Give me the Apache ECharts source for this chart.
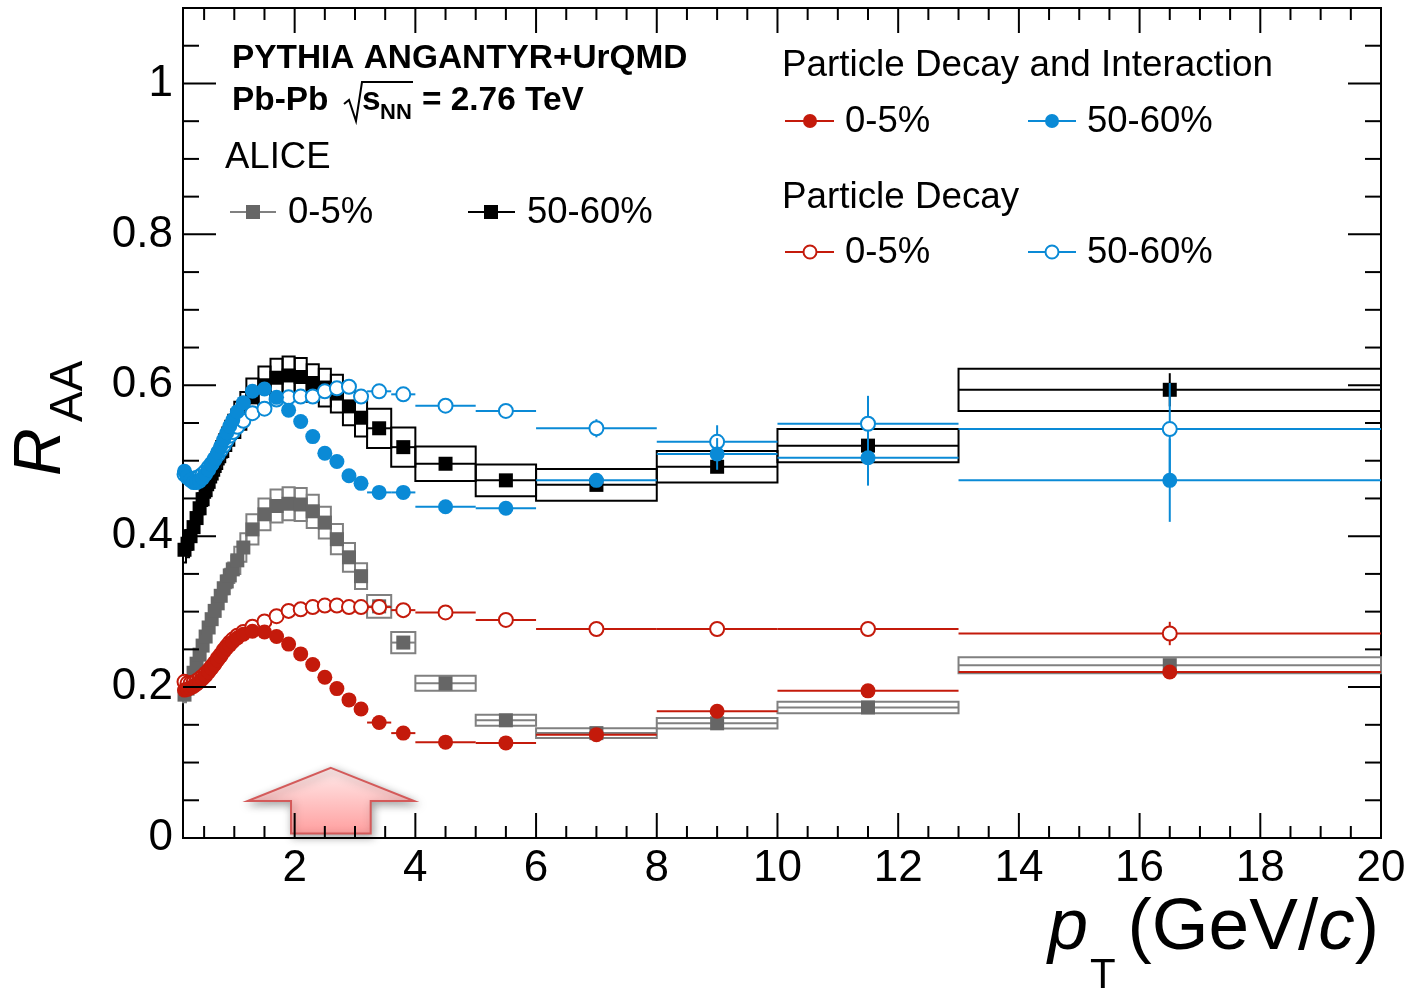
<!DOCTYPE html>
<html><head><meta charset="utf-8">
<script src="https://cdn.jsdelivr.net/npm/echarts@6/dist/echarts.min.js"></script>
<style>html,body{margin:0;padding:0;background:#fff;}#c{width:1410px;height:993px;}</style>
</head><body><div id="c"></div>
<script>
// ---------------- data ----------------
const ptCenters = [0.175,0.225,0.275,0.325,0.375,0.425,0.475,0.525,0.575,0.625,0.675,0.725,0.775,0.825,0.875,0.925,0.975,
  1.05,1.15,1.3,1.5,1.7,1.9,2.1,2.3,2.5,2.7,2.9,3.1,3.4,3.8,4.5,5.5,7,9,11.5,16.5];
const ptHalfWidths = [0.025,0.025,0.025,0.025,0.025,0.025,0.025,0.025,0.025,0.025,0.025,0.025,0.025,0.025,0.025,0.025,0.025,
  0.05,0.05,0.1,0.1,0.1,0.1,0.1,0.1,0.1,0.1,0.1,0.1,0.2,0.2,0.5,0.5,1,1,1.5,3.5];

// ALICE 0-5%
const aliceCentral = [0.190,0.198,0.208,0.219,0.231,0.243,0.255,0.267,0.279,0.290,0.301,0.311,0.321,0.331,0.340,0.348,0.356,
  0.368,0.385,0.409,0.429,0.440,0.443,0.442,0.433,0.418,0.396,0.372,0.347,0.307,0.259,0.205,0.156,0.139,0.152,0.173,0.229];
const aliceCentralSys = [0.010,0.010,0.010,0.011,0.012,0.012,0.013,0.013,0.014,0.015,0.015,0.016,0.016,0.017,0.017,0.017,0.018,
  0.018,0.019,0.020,0.021,0.022,0.022,0.022,0.022,0.021,0.020,0.019,0.017,0.015,0.014,0.010,0.0073,0.0066,0.007,0.0077,0.0106];
const aliceCentralStat = [0,0,0,0,0,0,0,0,0,0,0,0,0,0,0,0,0,0,0,0,0,0,0,0,0,0,0,0,0,0,0,
  0.002,0.002,0.002,0.003,0.004,0.008];
// ALICE 50-60%
const alicePeripheral = [0.382,0.390,0.400,0.412,0.424,0.437,0.449,0.461,0.472,0.483,0.493,0.503,0.512,0.521,0.529,0.537,0.544,
  0.554,0.566,0.584,0.600,0.610,0.613,0.611,0.603,0.597,0.589,0.572,0.557,0.543,0.518,0.496,0.474,0.468,0.492,0.520,0.594];
const alicePeripheralSys = [0.017,0.018,0.018,0.019,0.019,0.020,0.020,0.021,0.021,0.022,0.022,0.023,0.023,0.023,0.024,0.024,0.024,
  0.024,0.025,0.025,0.025,0.025,0.025,0.025,0.025,0.025,0.025,0.025,0.025,0.026,0.026,0.023,0.021,0.021,0.021,0.022,0.028];
const alicePeripheralStat = [0,0,0,0,0,0,0,0,0,0,0,0,0,0,0,0,0,0,0,0,0,0,0,0,0,0,0,0,0,0,0,
  0.003,0.004,0.005,0.007,0.010,0.022];

// Particle Decay and Interaction
const decayIntCentral = [0.196,0.197,0.199,0.201,0.204,0.207,0.211,0.215,0.220,0.225,0.230,0.236,0.241,0.247,0.252,0.256,0.260,
  0.265,0.270,0.274,0.273,0.267,0.257,0.244,0.230,0.213,0.198,0.183,0.171,0.153,0.139,0.127,0.126,0.137,0.168,0.195,0.220];
const decayIntCentralErr = [0,0,0,0,0,0,0,0,0,0,0,0,0,0,0,0,0,0,0,0,0,0,0,0,0,0,0,0,0,0,0,
  0.002,0.002,0.003,0.004,0.006,0.004];
const decayIntPeripheral = [0.486,0.479,0.474,0.471,0.471,0.473,0.477,0.482,0.488,0.495,0.503,0.511,0.519,0.528,0.537,0.546,0.554,
  0.565,0.577,0.592,0.595,0.584,0.567,0.552,0.532,0.510,0.499,0.480,0.470,0.458,0.458,0.439,0.437,0.474,0.509,0.504,0.474];
const decayIntPeripheralErr = [0,0,0,0,0,0,0,0,0,0,0,0,0,0,0,0,0,0,0,0,0,0,0,0,0,0,0,0,0,0,0,
  0.004,0.005,0.009,0.021,0.037,0.055];

// Particle Decay
const decayCentral = [0.207,0.205,0.205,0.206,0.208,0.211,0.214,0.218,0.222,0.227,0.232,0.238,0.243,0.249,0.254,0.259,0.263,
  0.268,0.273,0.280,0.287,0.294,0.301,0.303,0.306,0.308,0.308,0.306,0.306,0.306,0.302,0.299,0.289,0.277,0.277,0.277,0.271];
const decayCentralErr = [0,0,0,0,0,0,0,0,0,0,0,0,0,0,0,0,0,0,0,0,0,0,0,0,0,0,0,0,0,0,0,
  0.003,0.003,0.004,0.005,0.007,0.0155];
const decayPeripheral = [0.482,0.478,0.476,0.476,0.477,0.479,0.482,0.486,0.491,0.496,0.502,0.508,0.514,0.520,0.527,0.533,0.538,
  0.545,0.553,0.563,0.569,0.581,0.584,0.585,0.585,0.592,0.596,0.598,0.585,0.592,0.588,0.573,0.566,0.543,0.525,0.549,0.542];
const decayPeripheralErr = [0,0,0,0,0,0,0,0,0,0,0,0,0,0,0,0,0,0,0,0,0,0,0,0,0,0,0,0,0,0,0,
  0.005,0.006,0.012,0.022,0.037,0.061];

// axis ticks
const xMajorTicks = [2,4,6,8,10,12,14,16,18,20];
const xMinorTicks = [0.5,1,1.5,2.5,3,3.5,4.5,5,5.5,6.5,7,7.5,8.5,9,9.5,10.5,11,11.5,12.5,13,13.5,14.5,15,15.5,16.5,17,17.5,18.5,19,19.5];
const yMajorTicks = [0,0.2,0.4,0.6,0.8,1.0];
const yMinorTicks = [0.05,0.1,0.15,0.25,0.3,0.35,0.45,0.5,0.55,0.65,0.7,0.75,0.85,0.9,0.95,1.05];

// annotation arrow (data units)
const ARROW = {tipX:2.6, tipY:0.093, wingY:0.049, wingL:1.22, wingR:3.98, shaftL:1.94, shaftR:3.26, baseY:0.006};

// ---------------- style ----------------
const FONT = "'Liberation Sans', Arial, Helvetica, sans-serif";
const RED = '#c41a0b', BLUE = '#0a8ad6', GRAY = '#666666', GRAYBOX = '#808080', BLACK = '#000000';
const X_MIN = 0.15, X_MAX = 20, Y_MIN = 0, Y_MAX = 1.1;

function rows(vals, a, b) { return ptCenters.map((x, i) => [x, vals[i], ptHalfWidths[i], a ? a[i] : 0, b ? b[i] : 0]); }

function boxSeries(vals, sys, stat, color, z) {
  return {type:'custom', coordinateSystem:'cartesian2d', silent:true, z:z, animation:false,
    encode:{x:0, y:1}, data: rows(vals, sys, stat),
    renderItem(params, api) {
      const x = api.value(0), y = api.value(1), hw = api.value(2), s = api.value(3), st = api.value(4);
      const tl = api.coord([x - hw, y + s]), br = api.coord([x + hw, y - s]);
      const l = api.coord([x - hw, y]), r = api.coord([x + hw, y]);
      const ch = [
        {type:'rect', shape:{x:tl[0], y:tl[1], width:br[0]-tl[0], height:br[1]-tl[1]}, style:{fill:'none', stroke:color, lineWidth:2}},
        {type:'line', shape:{x1:l[0], y1:l[1], x2:r[0], y2:r[1]}, style:{stroke:color, lineWidth:2}}
      ];
      if (st > 0) {
        const t = api.coord([x, y + st]), b = api.coord([x, y - st]);
        ch.push({type:'line', shape:{x1:t[0], y1:t[1], x2:b[0], y2:b[1]}, style:{stroke:color, lineWidth:2}});
      }
      return {type:'group', children:ch};
    }};
}
function errSeries(vals, err, color, z) {
  return {type:'custom', coordinateSystem:'cartesian2d', silent:true, z:z, animation:false,
    encode:{x:0, y:1}, data: rows(vals, err),
    renderItem(params, api) {
      const x = api.value(0), y = api.value(1), hw = api.value(2), e = api.value(3);
      const l = api.coord([x - hw, y]), r = api.coord([x + hw, y]);
      const ch = [{type:'line', shape:{x1:l[0], y1:l[1], x2:r[0], y2:r[1]}, style:{stroke:color, lineWidth:2}}];
      if (e > 0) {
        const t = api.coord([x, y + e]), b = api.coord([x, y - e]);
        ch.push({type:'line', shape:{x1:t[0], y1:t[1], x2:b[0], y2:b[1]}, style:{stroke:color, lineWidth:2}});
      }
      return {type:'group', children:ch};
    }};
}
function markerSeries(vals, symbol, size, fill, border, z) {
  return {type:'scatter', silent:true, z:z, animation:false, symbol:symbol, symbolSize:size,
    itemStyle:{color:fill, borderColor:border, borderWidth: border ? 2 : 0, opacity:1},
    emphasis:{disabled:true},
    data: ptCenters.map((x, i) => [x, vals[i]])};
}
function tickSeries(values, axis, len) {
  return {type:'custom', coordinateSystem:'cartesian2d', silent:true, z:20, animation:false, clip:false,
    encode:{x:0, y:1},
    data: values.map(v => axis === 'x' ? [v, Y_MIN] : [X_MIN, v]),
    renderItem(params, api) {
      const cs = params.coordSys;
      const p = api.coord([api.value(0), api.value(1)]);
      const st = {stroke:'#000', lineWidth:2};
      if (axis === 'x') {
        return {type:'group', children:[
          {type:'line', shape:{x1:p[0], y1:cs.y + cs.height, x2:p[0], y2:cs.y + cs.height - len}, style:st},
          {type:'line', shape:{x1:p[0], y1:cs.y, x2:p[0], y2:cs.y + len}, style:st}]};
      }
      return {type:'group', children:[
        {type:'line', shape:{x1:cs.x, y1:p[1], x2:cs.x + len, y2:p[1]}, style:st},
        {type:'line', shape:{x1:cs.x + cs.width, y1:p[1], x2:cs.x + cs.width - len, y2:p[1]}, style:st}]};
    }};
}
const arrowSeries = {type:'custom', coordinateSystem:'cartesian2d', silent:true, z:1, animation:false, clip:false,
  encode:{x:0, y:1}, data:[[ARROW.tipX, ARROW.tipY]],
  renderItem(params, api) {
    const A = ARROW;
    const pts = [[A.tipX, A.tipY],[A.wingR, A.wingY],[A.shaftR, A.wingY],[A.shaftR, A.baseY],
                 [A.shaftL, A.baseY],[A.shaftL, A.wingY],[A.wingL, A.wingY]].map(p => api.coord(p));
    return {type:'polygon', shape:{points:pts}, style:{
      fill: new echarts.graphic.LinearGradient(0, 0, 0, 1, [{offset:0, color:'#ffecec'}, {offset:1, color:'#ff9e9e'}]),
      stroke:'#d45a5a', lineWidth:2, shadowBlur:8, shadowColor:'rgba(0,0,0,0.35)', shadowOffsetX:2, shadowOffsetY:3}};
  }};

// ---------------- graphic texts / legend ----------------
function txt(text, x, y, size, opts) {
  return Object.assign({type:'text', x:x, y:y, silent:true, z:50, style:Object.assign({
    text:text, fill:'#000', fontSize:size, fontFamily:FONT, align:'left', verticalAlign:'middle'}, (opts && opts.style) || {})},
    opts && opts.el ? opts.el : {});
}
function hline(x1, x2, y, color) {
  return {type:'line', silent:true, z:50, shape:{x1:x1, y1:y, x2:x2, y2:y}, style:{stroke:color, lineWidth:2}};
}
function sq(cx, cy, s, color) {
  return {type:'rect', silent:true, z:51, shape:{x:cx - s/2, y:cy - s/2, width:s, height:s}, style:{fill:color}};
}
function circ(cx, cy, r, fill, stroke) {
  return {type:'circle', silent:true, z:51, shape:{cx:cx, cy:cy, r:r}, style:{fill:fill, stroke:stroke || null, lineWidth: stroke ? 2 : 0}};
}
const graphics = [
  txt('PYTHIA ANGANTYR+UrQMD', 232, 59, 33.4, {style:{fontWeight:'bold'}}),
  txt('Pb-Pb', 232, 101, 33.4, {style:{fontWeight:'bold'}}),
  {type:'polyline', silent:true, z:50, shape:{points:[[344,104],[349,100],[356,121],[362,82],[413,82]]}, style:{stroke:'#000', lineWidth:2, fill:'none'}},
  txt('s', 362, 101, 33.4, {style:{fontWeight:'bold'}}),
  txt('NN', 380, 113, 22, {style:{fontWeight:'bold'}}),
  txt('= 2.76 TeV', 422, 101, 33.4, {style:{fontWeight:'bold'}}),
  txt('ALICE', 225, 158, 36.5),
  hline(230, 276, 212, GRAYBOX), sq(253, 212, 14, GRAY), txt('0-5%', 288, 213, 36.5),
  hline(468, 515, 212, BLACK), sq(491, 212, 14, BLACK), txt('50-60%', 527, 213, 36.5),
  txt('Particle Decay and Interaction', 782, 66, 36.8),
  hline(785, 834, 121, RED), circ(810, 121, 7, RED), txt('0-5%', 845, 122, 36.5),
  hline(1028, 1076, 121, BLUE), circ(1052, 121, 7, BLUE), txt('50-60%', 1087, 122, 36.5),
  txt('Particle Decay', 782, 198, 36.8),
  hline(785, 803, 252, RED), hline(817, 834, 252, RED), circ(810, 252, 6.5, '#fff', RED), txt('0-5%', 845, 253, 36.5),
  hline(1028, 1045, 252, BLUE), hline(1059, 1076, 252, BLUE), circ(1052, 252, 6.5, '#fff', BLUE), txt('50-60%', 1087, 253, 36.5),
  // y-axis title, reading bottom-to-top (local +y points to screen right)
  {type:'group', x:42, y:476, rotation:Math.PI/2, silent:true, z:50, children:[
    {type:'text', x:0, y:0, style:{text:'R', fontSize:66, fontStyle:'italic', fontFamily:FONT, fill:'#000', align:'left', verticalAlign:'middle'}},
    {type:'text', x:54, y:27, style:{text:'AA', fontSize:46, fontFamily:FONT, fill:'#000', align:'left', verticalAlign:'middle'}}
  ]},
  // x-axis title
  txt('p', 1048, 929, 72, {style:{fontStyle:'italic'}}),
  txt('T', 1090, 976, 42),
  {type:'text', x:1379, y:929, silent:true, z:50, style:{
    text:'{n|(GeV/}{i|c}{n|)}', align:'right', verticalAlign:'middle', fill:'#000',
    rich:{n:{fontSize:73, fontFamily:FONT, fill:'#000'}, i:{fontSize:73, fontFamily:FONT, fontStyle:'italic', fill:'#000'}}}}
];

// ---------------- chart ----------------
const chart = echarts.init(document.getElementById('c'), null, {renderer:'canvas'});
chart.setOption({
  animation:false,
  backgroundColor:'#fff',
  grid:{left:183, top:8, right:29, bottom:155, show:true, borderColor:'#000', borderWidth:2, backgroundColor:'transparent',
        containLabel:false, outerBoundsMode:'none'},
  xAxis:{type:'value', min:X_MIN, max:X_MAX, minInterval:2, maxInterval:2, splitNumber:10,
    axisLine:{show:false}, axisTick:{show:false}, splitLine:{show:false},
    axisLabel:{fontSize:44, fontFamily:FONT, color:'#000', margin:9, hideOverlap:false,
      formatter: v => { const r = Math.round(v); return (Math.abs(v - r) < 1e-6 && r % 2 === 0 && r > 0) ? String(r) : ''; }}},
  yAxis:{type:'value', min:Y_MIN, max:Y_MAX, interval:0.2,
    axisLine:{show:false}, axisTick:{show:false}, splitLine:{show:false},
    axisLabel:{fontSize:44, fontFamily:FONT, color:'#000', margin:10, hideOverlap:false, padding:[5,0,0,0],
      formatter: v => v > 1.05 ? '' : String(+v.toFixed(1))}},
  series:[
    arrowSeries,
    boxSeries(aliceCentral, aliceCentralSys, aliceCentralStat, GRAYBOX, 2),
    boxSeries(alicePeripheral, alicePeripheralSys, alicePeripheralStat, BLACK, 2),
    markerSeries(aliceCentral, 'rect', 14, GRAY, null, 3),
    markerSeries(alicePeripheral, 'rect', 14, BLACK, null, 3),
    errSeries(decayCentral, decayCentralErr, RED, 4),
    errSeries(decayPeripheral, decayPeripheralErr, BLUE, 4),
    markerSeries(decayCentral, 'circle', 14, '#fff', RED, 5),
    markerSeries(decayPeripheral, 'circle', 14, '#fff', BLUE, 5),
    errSeries(decayIntCentral, decayIntCentralErr, RED, 6),
    errSeries(decayIntPeripheral, decayIntPeripheralErr, BLUE, 6),
    markerSeries(decayIntCentral, 'circle', 15, RED, null, 7),
    markerSeries(decayIntPeripheral, 'circle', 15, BLUE, null, 7),
    tickSeries(xMajorTicks, 'x', 25),
    tickSeries(xMinorTicks, 'x', 12),
    tickSeries(yMajorTicks, 'y', 33),
    tickSeries(yMinorTicks, 'y', 16)
  ],
  graphic: graphics
});
</script>
</body></html>
